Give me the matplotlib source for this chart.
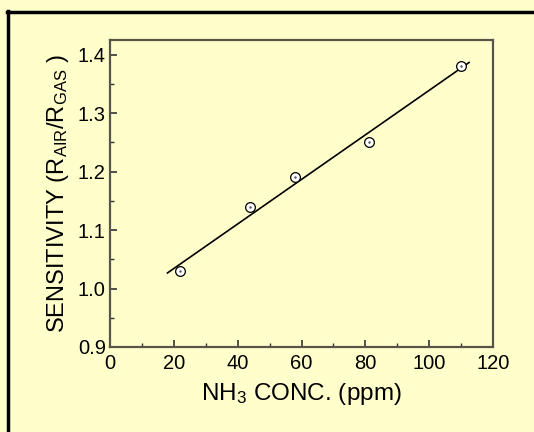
import numpy as np
import matplotlib
matplotlib.use("Agg")
import matplotlib.pyplot as plt
from matplotlib.lines import Line2D
from matplotlib.ticker import MultipleLocator

# NH3 concentration (ppm) and measured sensitivity
conc = [22, 44, 58, 81, 110]
sensitivity = [1.03, 1.14, 1.19, 1.25, 1.38]
x_ticks = [0, 20, 40, 60, 80, 100, 120]
y_ticks = [0.9, 1.0, 1.1, 1.2, 1.3, 1.4]
fit_range = [18, 112.5]

plt.rcParams['font.family'] = ['Liberation Sans', 'DejaVu Sans']
plt.rcParams['mathtext.fontset'] = 'custom'
plt.rcParams['mathtext.rm'] = 'Liberation Sans'
plt.rcParams['mathtext.it'] = 'Liberation Sans'

bg = '#ffffcc'
W, H, DPI = 534, 432, 100
fig = plt.figure(figsize=(W / DPI, H / DPI), dpi=DPI, facecolor=bg)
ax = fig.add_axes([110 / W, 1 - 347 / H, (493 - 110) / W, (347 - 40) / H])
ax.set_facecolor(bg)

# linear fit through the measurements
slope, icpt = np.polyfit(conc, sensitivity, 1)
xf = np.array(fit_range)
ax.plot(xf, slope * xf + icpt, color='black', lw=1.2, zorder=2)

ax.plot(conc, sensitivity, 'o', ms=7, mfc='white', mec='black', mew=0.9, zorder=3)
ax.plot(conc, sensitivity, '.', ms=1.5, color='#555555', zorder=4)

ax.set_xlim(0, 120)
ax.set_ylim(0.9, 1.425)
ax.set_xticks(x_ticks)
ax.set_yticks(y_ticks)
ax.set_yticklabels([f'{v:.1f}' for v in y_ticks])
ax.xaxis.set_minor_locator(MultipleLocator(10))
ax.yaxis.set_minor_locator(MultipleLocator(0.05))

ax.tick_params(which='major', direction='in', length=5, width=1.2, color='#333333',
               labelsize=14.5)
ax.tick_params(axis='x', which='major', pad=5)
ax.tick_params(axis='y', which='major', pad=3)
ax.tick_params(which='minor', direction='in', length=3, width=1.0, color='#333333')
ax.tick_params(top=False, right=False, which='both')

for s in ax.spines.values():
    s.set_color('#555548')
    s.set_linewidth(1.6)

ax.set_xlabel(r'NH$_{\mathregular{3}}$ CONC. (ppm)', fontsize=17.5, labelpad=6)
ax.set_ylabel(r'SENSITIVITY (R$_{\mathregular{AIR}}$/R$_{\mathregular{GAS}}$ )', fontsize=17,
              labelpad=5)

# frame lines on the left and top edges
fig.add_artist(Line2D([8 / W, 8 / W], [0, 1 - 11 / H], color='black', lw=2.5,
                      transform=fig.transFigure))
fig.add_artist(Line2D([7 / W, 1], [1 - 12 / H, 1 - 12 / H], color='black', lw=2.5,
                      transform=fig.transFigure))

fig.savefig('out.png', dpi=DPI, facecolor=bg)
